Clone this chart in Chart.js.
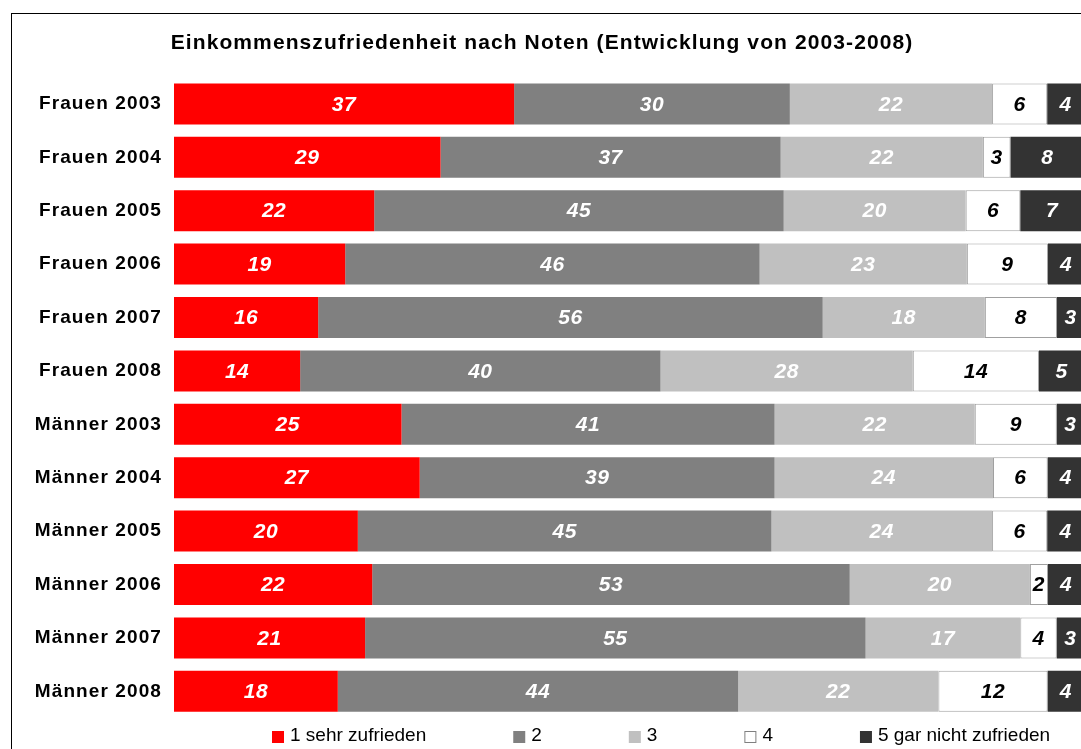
<!DOCTYPE html>
<html><head><meta charset="utf-8">
<script src="https://cdn.jsdelivr.net/npm/chart.js@4"></script>
<style>
html,body{margin:0;padding:0;background:#fff;overflow:hidden;}
#wrap{position:relative;width:1084px;height:749px;}
</style></head><body>
<div id="wrap"><canvas id="c" width="1084" height="749"></canvas></div>
<script>
const categories = ['Frauen 2003','Frauen 2004','Frauen 2005','Frauen 2006','Frauen 2007','Frauen 2008',
  'Männer 2003','Männer 2004','Männer 2005','Männer 2006','Männer 2007','Männer 2008'];
const seriesNames = ['1 sehr zufrieden','2','3','4','5 gar nicht zufrieden'];
const note1 = [37,29,22,19,16,14,25,27,20,22,21,18];
const note2 = [30,37,45,46,56,40,41,39,45,53,55,44];
const note3 = [22,22,20,23,18,28,22,24,24,20,17,22];
const note4 = [6,3,6,9,8,14,9,6,6,2,4,12];
const note5 = [4,8,7,4,3,5,3,4,4,4,3,4];
const titleText = 'Einkommenszufriedenheit nach Noten (Entwicklung von 2003-2008)';

const series = [note1,note2,note3,note4,note5];
const fills = ['#ff0000','#808080','#c0c0c0','#ffffff','#333333'];
const borders = ['#ff0000','#808080','#c0c0c0','#a0a0a0','#333333'];
const labelColors = ['#ffffff','#ffffff','#ffffff','#000000','#ffffff'];
const FONT = '"Liberation Sans", Arial, Helvetica, sans-serif';

// bars are shown as share of each row's total (100% stacked)
const rowTotals = categories.map((_, i) => series.reduce((s, a) => s + a[i], 0));
const share = arr => arr.map((v, i) => v / rowTotals[i] * 100);

const datasets = series.map((arr, k) => ({
  label: seriesNames[k],
  data: share(arr),
  shown: arr,
  labelColor: labelColors[k],
  backgroundColor: fills[k],
  borderColor: borders[k],
  borderWidth: k === 3 ? 1 : 0,
  borderSkipped: false,
  barPercentage: 0.768,
  categoryPercentage: 1.0
}));

const spacing = {
  id: 'spacing',
  beforeDraw(chart) { if ('letterSpacing' in chart.ctx) chart.ctx.letterSpacing = '1.1px'; },
  beforeDatasetsDraw(chart) { if ('letterSpacing' in chart.ctx) chart.ctx.letterSpacing = '0px'; }
};

const valueLabels = {
  id: 'valueLabels',
  afterDatasetsDraw(chart) {
    const ctx = chart.ctx;
    ctx.save();
    if ('letterSpacing' in ctx) ctx.letterSpacing = '0.5px';
    ctx.font = 'italic bold 21px ' + FONT;
    ctx.textAlign = 'center';
    ctx.textBaseline = 'middle';
    chart.data.datasets.forEach((ds, di) => {
      const meta = chart.getDatasetMeta(di);
      meta.data.forEach((bar, i) => {
        const cx = (bar.x + bar.base) / 2;
        ctx.fillStyle = ds.labelColor;
        ctx.fillText(String(ds.shown[i]), cx, bar.y + 1);
      });
    });
    ctx.restore();
  }
};

const customLegend = {
  id: 'customLegend',
  afterDraw(chart) {
    const ctx = chart.ctx;
    ctx.save();
    if ('letterSpacing' in ctx) ctx.letterSpacing = '0px';
    ctx.font = '19px ' + FONT;
    ctx.textAlign = 'left';
    ctx.textBaseline = 'middle';
    let x = 272;
    const y = 737;
    chart.data.datasets.forEach(ds => {
      ctx.fillStyle = ds.backgroundColor;
      ctx.fillRect(x, y - 6, 12, 12);
      if (ds.borderWidth) {
        ctx.strokeStyle = '#808080';
        ctx.lineWidth = 1;
        ctx.strokeRect(x + 0.5, y - 5.5, 11, 11);
      }
      ctx.fillStyle = '#000';
      const tx = x + 18;
      ctx.fillText(ds.label, tx, y - 1);
      x = tx + ctx.measureText(ds.label).width + 87;
    });
    ctx.restore();
  }
};

const frame = {
  id: 'frame',
  afterDraw(chart) {
    const ctx = chart.ctx;
    ctx.save();
    ctx.strokeStyle = '#000';
    ctx.lineWidth = 1;
    ctx.strokeRect(11.5, 13.5, 3000, 3000);
    ctx.restore();
  }
};

new Chart(document.getElementById('c'), {
  type: 'bar',
  data: { labels: categories, datasets },
  options: {
    indexAxis: 'y',
    responsive: false,
    animation: false,
    devicePixelRatio: 1,
    layout: { padding: { left: 0, right: 0, top: 0, bottom: 31 } },
    scales: {
      x: { stacked: true, min: 0, max: 100, display: false },
      y: {
        stacked: true,
        grid: { display: false, drawTicks: false },
        border: { display: false },
        ticks: { color: '#000', padding: 12, font: { family: FONT, size: 19, weight: 'bold' } },
        afterFit(scale) { scale.width = 174; }
      }
    },
    plugins: {
      legend: { display: false },
      tooltip: { enabled: false },
      title: {
        display: true,
        text: titleText,
        color: '#000',
        font: { family: FONT, size: 21, weight: 'bold' },
        padding: { top: 31, bottom: 21 }
      }
    }
  },
  plugins: [spacing, valueLabels, customLegend, frame]
});
</script>
</body></html>
